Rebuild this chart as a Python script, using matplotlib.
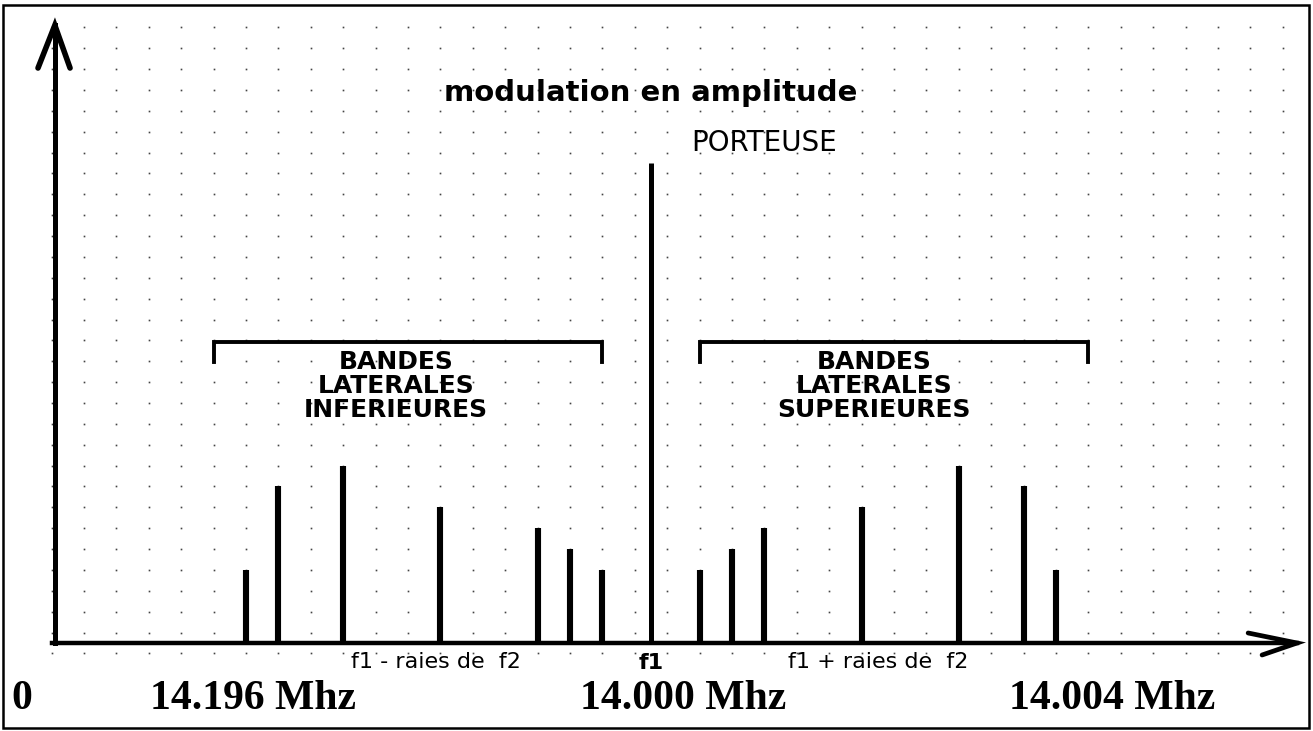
import numpy as np
import matplotlib.pyplot as plt
from matplotlib.patches import Rectangle

# spectrum of an AM signal: carrier f1 and the sidebands produced by f2
carrier_pos = 0.0
carrier_amp = 23.0
sideband_pos = [1.5, 2.5, 3.5, 6.5, 9.5, 11.5, 12.5]
sideband_amp = [3.5, 4.5, 5.5, 6.5, 8.5, 7.5, 3.5]

freq_labels = ['0', '14.196 Mhz', '14.000 Mhz', '14.004 Mhz']
freq_label_pos = [-19.41, -12.28, 0.99, 14.23]

band_lower = 'BANDES\nLATERALES\nINFERIEURES'
band_upper = 'BANDES\nLATERALES\nSUPERIEURES'

# page layout (pixels per unit, origin of the spectrum)
W, H = 1313, 731
col, row = 32.4, 20.87
x0, y0 = 651, 643

fig = plt.figure(figsize=(W / 100, H / 100), dpi=100)
ax = fig.add_axes([0, 0, 1, 1])
ax.set_xlim(-x0 / col, (W - x0) / col)
ax.set_ylim((y0 - H) / row, y0 / row)
ax.axis('off')

# dotted background grid
gx = np.arange(-18.5, 20, 1.0)
gy = np.arange(-0.5, 30, 1.0)
GX, GY = np.meshgrid(gx, gy)
ax.plot(GX.ravel(), GY.ravel(), 's', ms=1.2, mew=0, color='#444444', zorder=1)

# axes with open arrow heads
yax = -18.4
ax.plot([yax, yax], [0, 29.6], color='k', lw=3.6, zorder=3)
ax.plot([-18.92, yax, -17.93], [27.55, 29.6, 27.55], color='k', lw=4.0,
        solid_capstyle='round', solid_joinstyle='miter', zorder=3)
ax.plot([-18.5, 19.94], [0, 0], color='k', lw=3.2, zorder=3)
ax.plot([18.43, 19.94, 18.86], [0.48, 0, -0.575], color='k', lw=3.4,
        solid_capstyle='round', solid_joinstyle='miter', zorder=3)

# spectral lines
lower_pos = [-p for p in sideband_pos]
ax.vlines(lower_pos, 0, sideband_amp, color='k', lw=4.4, zorder=4)
ax.vlines(sideband_pos, 0, sideband_amp, color='k', lw=4.4, zorder=4)
ax.vlines(carrier_pos, 0, carrier_amp, color='k', lw=3.6, zorder=4)

# brackets over the sidebands
for a, b in [(-13.5, -1.5), (1.5, 13.5)]:
    ax.plot([a, a, b, b], [13.46, 14.42, 14.42, 13.46], color='k', lw=2.8,
            solid_joinstyle='miter', zorder=3)

ax.text(0, 26.35, 'modulation en amplitude', ha='center', va='center',
        fontsize=21, fontweight='bold', family='DejaVu Sans')
ax.text(3.49, 23.96, 'PORTEUSE', ha='center', va='center',
        fontsize=20, family='DejaVu Sans')

ax.text(-7.87, 12.31, band_lower, ha='center', va='center', fontsize=18,
        fontweight='bold', family='DejaVu Sans', linespacing=0.98)
ax.text(6.88, 12.31, band_upper, ha='center', va='center', fontsize=18,
        fontweight='bold', family='DejaVu Sans', linespacing=0.98)

ax.text(-6.64, -0.91, 'f1 - raies de  f2', ha='center', va='center',
        fontsize=16, family='DejaVu Sans')
ax.text(carrier_pos, -0.96, 'f1', ha='center', va='center',
        fontsize=16, fontweight='bold', family='DejaVu Sans')
ax.text(7.0, -0.91, 'f1 + raies de  f2', ha='center', va='center',
        fontsize=16, family='DejaVu Sans')

for lab, xp in zip(freq_labels, freq_label_pos):
    ax.text(xp, -2.68, lab, ha='center', va='center', fontsize=30,
            fontweight='bold', family='Liberation Serif')

# page frame
fig.patches.append(Rectangle((3 / W, 3 / H), 1306 / W, 723 / H, fill=False,
                             ec='k', lw=1.8, transform=fig.transFigure))

fig.savefig('out.png', dpi=100)
